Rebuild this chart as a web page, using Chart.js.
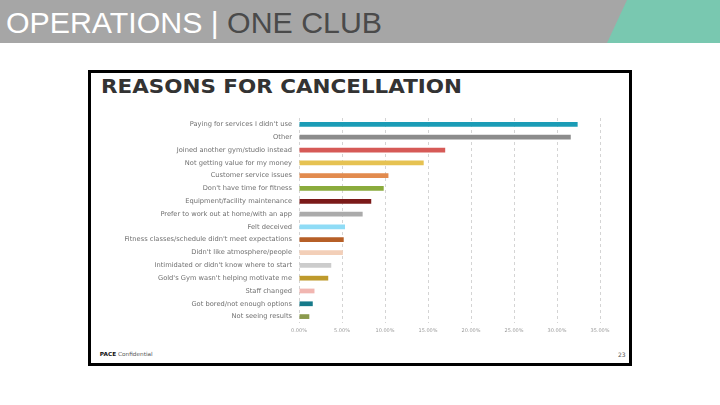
<!DOCTYPE html>
<html>
<head>
<meta charset="utf-8">
<script src="https://cdn.jsdelivr.net/npm/chart.js@4.4.0/dist/chart.umd.min.js"></script>
<style>
  html, body { margin: 0; padding: 0; background: #ffffff; width: 720px; height: 405px; overflow: hidden; position: relative; }
  #header { position: absolute; left: 0; top: 0; width: 720px; height: 43px; background: #a6a6a6; }
  #teal { position: absolute; left: 0; top: 0; width: 720px; height: 43px; }
  #htext { position: absolute; left: 6px; top: 5px; font-family: "Liberation Sans", Arial, sans-serif; font-size: 29px; line-height: 36px; white-space: nowrap; transform-origin: left center; }
  #htext .w { color: #ffffff; }
  #htext .d { color: #4a4a4a; }
  #frame { position: absolute; left: 88px; top: 70px; width: 538px; height: 290px; border: 3px solid #000; background: #fff; }
  #title { position: absolute; left: 101px; top: 74px; font-family: "DejaVu Sans", sans-serif; font-weight: bold; font-size: 20px; color: #333333; white-space: nowrap; transform-origin: left top; }
  #footer { position: absolute; left: 101px; top: 351px; font-family: "DejaVu Sans", sans-serif; font-size: 5.5px; color: #555; white-space: nowrap; }
  #footer b { color: #111; }
  #page { position: absolute; left: 618px; top: 351px; font-family: "DejaVu Sans", sans-serif; font-size: 6px; color: #555; }
  #wrap { position: absolute; left: 91px; top: 100px; width: 538px; height: 250px; }
</style>
</head>
<body>
<div id="header"></div>
<svg id="teal" width="720" height="43"><polygon points="627,0 720,0 720,43 607,43" fill="#79c8b0"/></svg>
<div id="htext"><span class="w">OPERATIONS | </span><span class="d">ONE CLUB</span></div>
<div id="frame"></div>
<div id="title">REASONS FOR CANCELLATION</div>
<div id="footer"><b>PACE</b> Confidential</div>
<div id="page">23</div>
<div id="wrap"><canvas id="c" width="538" height="250"></canvas></div>
<script>
const categories = [
  "Paying for services I didn't use",
  "Other",
  "Joined another gym/studio instead",
  "Not getting value for my money",
  "Customer service issues",
  "Don't have time for fitness",
  "Equipment/facility maintenance",
  "Prefer to work out at home/with an app",
  "Felt deceived",
  "Fitness classes/schedule didn't meet expectations",
  "Didn't like atmosphere/people",
  "Intimidated or didn't know where to start",
  "Gold's Gym wasn't helping motivate me",
  "Staff changed",
  "Got bored/not enough options",
  "Not seeing results"
];
const values = [32.4, 31.6, 17.0, 14.5, 10.4, 9.85, 8.4, 7.4, 5.35, 5.2, 5.1, 3.75, 3.4, 1.8, 1.6, 1.2];
const barColors = ["#1b9cb6", "#8c8c8c", "#d65a57", "#e6c252", "#e28b4e", "#8aab3c", "#7b1a19", "#ababab", "#8fdcf6", "#b65f27", "#f3cfb8", "#cccccc", "#be9a2c", "#f1b6b1", "#167a8a", "#8b9a4d"];
const xTickLabels = ["0.00%", "5.00%", "10.00%", "15.00%", "20.00%", "25.00%", "30.00%", "35.00%"];

function fitWidth(id, target) {
  const el = document.getElementById(id);
  const w = el.getBoundingClientRect().width;
  el.style.transform = 'scaleX(' + (target / w) + ')';
}
fitWidth('htext', 376);
fitWidth('title', 361);
fitWidth('footer', 53);

new Chart(document.getElementById('c'), {
  type: 'bar',
  data: {
    labels: categories,
    datasets: [{
      data: values,
      backgroundColor: barColors,
      borderWidth: 0,
      barPercentage: 0.74,
      categoryPercentage: 0.5
    }]
  },
  options: {
    indexAxis: 'y',
    responsive: false,
    animation: false,
    layout: { padding: { top: 18, right: 29, left: 0, bottom: 0 } },
    plugins: { legend: { display: false }, tooltip: { enabled: false } },
    scales: {
      x: {
        min: 0, max: 35,
        ticks: {
          stepSize: 5,
          color: '#9a9a9a',
          font: { family: 'DejaVu Sans', size: 5 },
          padding: 5,
          callback: (v, i) => xTickLabels[i]
        },
        grid: { color: '#d4d4d4', drawTicks: false, lineWidth: 1 },
        border: { display: false, dash: [3, 3] },
        afterFit: (s) => { s.height = 27; }
      },
      y: {
        ticks: {
          color: '#707070',
          font: { family: 'DejaVu Sans', size: 6.7 },
          padding: 7,
          autoSkip: false
        },
        grid: { display: false, drawTicks: false },
        border: { display: false },
        afterFit: (s) => { s.width = 208; }
      }
    }
  }
});
</script>
</body>
</html>
